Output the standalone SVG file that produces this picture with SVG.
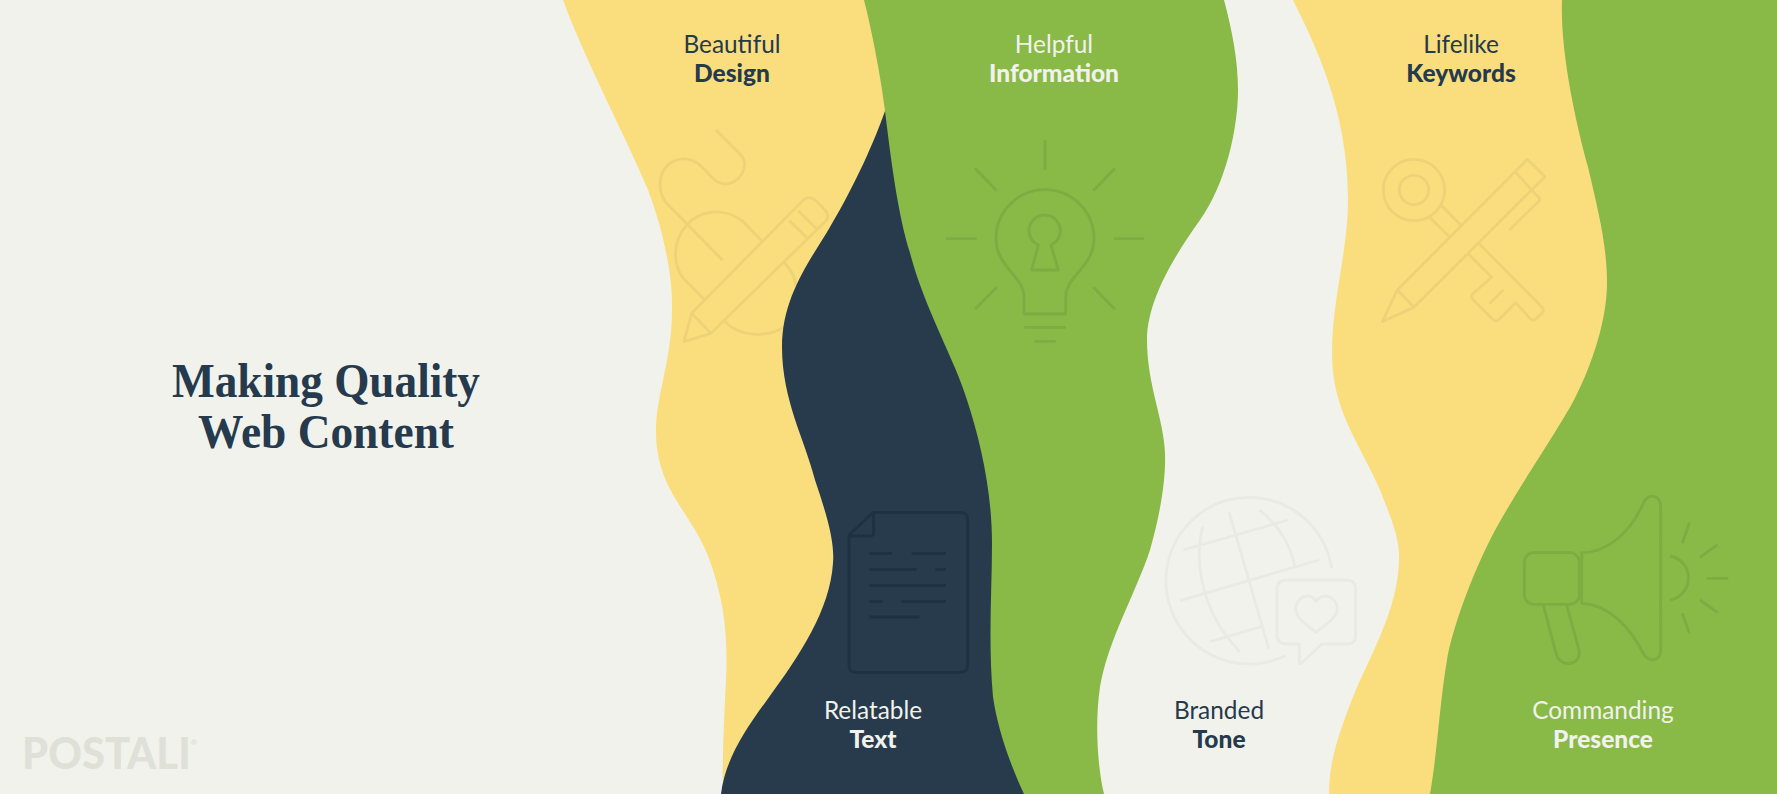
<svg xmlns="http://www.w3.org/2000/svg" width="1777" height="794" viewBox="0 0 1777 794">
<style>
.lab{font-family:"Lato","Liberation Sans",sans-serif;text-anchor:middle}
.l{font-weight:400;font-size:24.4px}
.b{font-weight:900;font-size:24.5px}
.dk{fill:#253A4C}
.lt{fill:#F1F2EC}
.ic{fill:none;stroke-width:8.5;stroke-linejoin:round}
.iy{stroke:#EDD277}
.ig{stroke:#7DAC43}
.in{stroke:#1E3140}
.ib{stroke:#E9EAE3}
</style>
<rect id="background" width="1777" height="794" fill="#F1F2EC"/>
<g id="band-design">
<path fill="#FADE7E" d="M563,0 C585,60 625,135 648,190 C665,235 673,280 672,310 C672,360 656,395 656,431 C656,490 690,510 708,556 C725,600 728,640 726,680 C724,720 722,760 723,794 L1000,794 L1000,0 Z"/>
<g class="ic iy" transform="translate(540,0) scale(0.3333)">
<path d="M528,390 L600,462 C635,500 595,553 555,552 C525,550 515,530 490,505 C440,450 360,480 360,555 C360,580 370,600 385,615 L547,780"/>
<path d="M668,725 L610,665 C550,620 480,630 440,675 C400,720 395,790 430,835 L495,900"/>
<path d="M732,787 C755,810 770,845 770,880 M555,965 C600,1010 680,1015 735,980"/>
<path d="M432,1025 L455,940 L790,600 Q808,585 828,602 L855,630 Q872,650 855,665 L513,1000 Z M455,940 L513,1000 M748,662 L800,712 M775,632 L828,685"/>
</g>
</g>
<g id="band-text">
<path fill="#273B4C" d="M885,111 C875,140 855,185 830,227 C812,258 782,295 782,347 C782,400 805,440 815,480 C825,510 835,540 833,563 C830,610 800,655 767,700 C745,730 725,760 721,794 L1050,794 L1050,100 Z"/>
<g class="ic in" transform="translate(700,480) scale(0.3333)">
<path d="M447,165 L520,97 H780 Q803,97 803,120 V555 Q803,577 780,577 H470 Q447,577 447,555 Z"/>
<path d="M447,168 H510 Q521,168 521,157 V97"/>
<path d="M508,220 H575 M635,220 H738 M508,268 H650 M706,268 H738 M508,316 H738 M508,364 H548 M604,364 H738 M508,411 H658"/>
</g>
</g>
<g id="band-information">
<path fill="#89B947" d="M864,0 C873,35 882,85 885,111 C891,160 898,215 910,253 C925,310 955,360 967,400 C980,440 992,490 992,544 C992,590 988,640 993,697 C997,725 1008,760 1024,794 L1104,794 C1097,765 1095,720 1100,687 C1108,640 1135,595 1150,550 C1160,515 1166,480 1165,453 C1164,420 1147,385 1147,340 C1147,300 1175,255 1200,220 C1225,185 1238,130 1238,90 C1238,60 1232,30 1224,0 Z"/>
<g class="ic ig" transform="translate(920,0) scale(0.3333)">
<path d="M375,420 V510 M165,505 L230,572 M585,505 L520,572 M78,716 H170 M582,716 H672 M230,862 L165,928 M520,862 L585,928 M313,982 H437 M343,1024 H407"/>
<path d="M312,942 H437 V890 C437,830 522,800 522,716 A147,147 0 1 0 228,716 C228,800 312,830 312,890 Z"/>
<path d="M335,810 H415 L393,735 A47,47 0 1 0 355,735 Z"/>
</g>
</g>
<g id="band-tone">
<g class="ic ib" transform="translate(1120,470) scale(0.3333)">
<path d="M635,295 A250,250 0 1 0 497,557"/>
<path d="M190,240 L505,150 M180,392 L597,270 M270,515 L425,470 M327,125 L447,538"/>
<path d="M248,170 C225,260 235,420 360,545 M418,120 C470,160 510,220 525,290"/>
<path d="M500,330 H680 Q707,330 707,357 V497 Q707,522 680,522 H605 L545,580 Q538,585 538,575 V522 H500 Q471,522 471,495 V357 Q471,330 500,330 Z"/>
<path d="M588,487 C560,465 527,445 527,415 C527,395 545,378 563,378 C575,378 583,385 588,395 C595,385 603,378 615,378 C635,378 652,395 652,415 C652,445 615,465 588,487 Z"/>
</g>
</g>
<g id="band-keywords">
<path fill="#FADE7E" d="M1293,0 C1315,45 1348,110 1348,200 C1348,250 1332,300 1332,353 C1332,410 1358,440 1380,490 C1392,520 1400,540 1399,560 C1398,610 1370,655 1353,697 C1340,730 1329,760 1329,794 L1777,794 L1777,0 Z"/>
<g class="ic iy" transform="translate(1340,0) scale(0.3333)">
<circle cx="222" cy="570" r="92"/>
<circle cx="222" cy="570" r="44"/>
<path d="M300,612 L362,675 M265,648 L328,710"/>
<path d="M418,732 L605,920 Q615,930 605,940 L590,955 Q580,965 570,955 L527,908 L478,958 Q468,968 458,958 L400,900 Q390,890 400,880 L455,832 L385,762"/>
<path d="M490,870 L448,912"/>
<path d="M127,965 L172,870 L562,478 L615,530 L575,570 L222,922 Z M528,518 L575,570 M172,870 L222,922"/>
<path d="M575,570 L595,590 Q602,598 595,605 L508,690"/>
</g>
</g>
<g id="band-presence">
<path fill="#89B947" d="M1562,0 C1560,50 1575,120 1588,167 C1598,210 1607,245 1607,283 C1607,320 1592,365 1574,400 C1555,435 1510,500 1490,540 C1465,590 1450,640 1447,660 C1440,700 1437,755 1430,794 L1777,794 L1777,0 Z"/>
<g class="ic ig" transform="translate(1430,470) scale(0.3333)">
<rect x="283" y="248" width="165" height="155" rx="28"/>
<path d="M455,248 C530,248 600,190 640,100 C650,70 692,70 692,110 V540 C692,580 650,575 640,550 C600,470 530,400 455,400 Z"/>
<path d="M340,405 L378,550 C390,595 455,590 447,540 L410,405"/>
<path d="M720,258 A67,67 0 0 1 720,390"/>
<path d="M778,158 L757,220 M863,224 L810,262 M830,325 H895 M810,390 L863,428 M757,430 L778,490"/>
</g>
</g>
<g id="title">
<text x="326" y="397" font-family="'Liberation Serif',serif" font-weight="700" font-size="49" fill="#253A4C" text-anchor="middle" textLength="308" lengthAdjust="spacingAndGlyphs">Making Quality</text>
<text x="326" y="448" font-family="'Liberation Serif',serif" font-weight="700" font-size="49" fill="#253A4C" text-anchor="middle" textLength="256" lengthAdjust="spacingAndGlyphs">Web Content</text>
</g>
<g id="labels">
<text class="lab l dk" x="732" y="53">Beautiful</text><text class="lab b dk" x="732" y="82">Design</text>
<text class="lab l lt" x="1054" y="53">Helpful</text><text class="lab b lt" x="1054" y="82">Information</text>
<text class="lab l dk" x="1461" y="53">Lifelike</text><text class="lab b dk" x="1461" y="82">Keywords</text>
<text class="lab l lt" x="873" y="719">Relatable</text><text class="lab b lt" x="873" y="748">Text</text>
<text class="lab l dk" x="1219" y="719">Branded</text><text class="lab b dk" x="1219" y="748">Tone</text>
<text class="lab l lt" x="1603" y="719">Commanding</text><text class="lab b lt" x="1603" y="748">Presence</text>
</g>
<g id="logo">
<text x="22" y="769" font-family="Lato,'Liberation Sans',sans-serif" font-weight="900" font-size="44" fill="#DFE1D8" textLength="175" lengthAdjust="spacingAndGlyphs">POSTALI<tspan font-size="8" dy="-24">®</tspan></text>
</g>
</svg>
